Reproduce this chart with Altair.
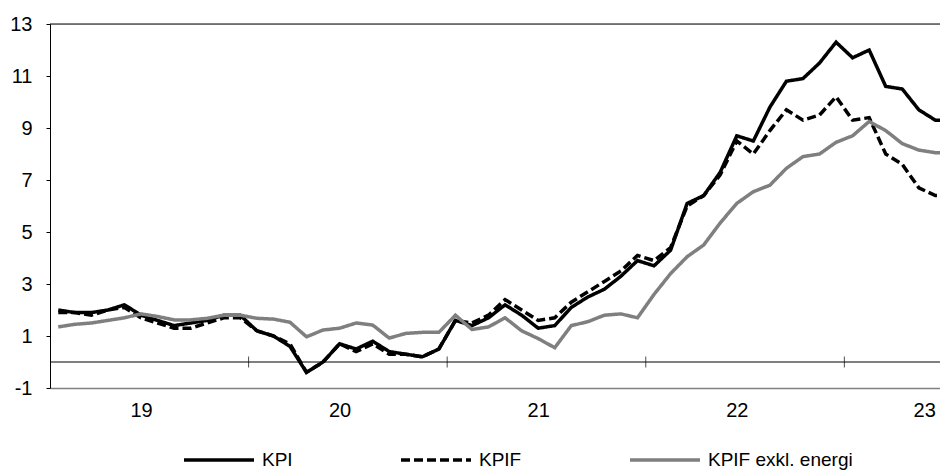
import altair as alt
import pandas as pd

# ---- data (monthly, Jan 2019 .. Jul 2023), annual % change ----
year_labels = ["19", "20", "21", "22", "23"]
series_names = ["KPI", "KPIF", "KPIF exkl. energi"]

kpi = [
    2.0, 1.9, 1.9, 2.0, 2.2, 1.8, 1.6, 1.4, 1.5, 1.6, 1.8, 1.8,
    1.2, 1.0, 0.6, -0.4, 0.0, 0.7, 0.5, 0.8, 0.4, 0.3, 0.2, 0.5,
    1.6, 1.4, 1.7, 2.2, 1.8, 1.3, 1.4, 2.1, 2.5, 2.8, 3.3, 3.9,
    3.7, 4.3, 6.1, 6.4, 7.3, 8.7, 8.5, 9.8, 10.8, 10.9, 11.5, 12.3,
    11.7, 12.0, 10.6, 10.5, 9.7, 9.3, 9.3,
]
kpif = [
    1.9, 1.9, 1.8, 2.0, 2.1, 1.7, 1.5, 1.3, 1.3, 1.5, 1.7, 1.7,
    1.2, 1.0, 0.7, -0.4, 0.0, 0.7, 0.4, 0.7, 0.3, 0.3, 0.2, 0.5,
    1.6, 1.5, 1.8, 2.4, 2.0, 1.6, 1.7, 2.3, 2.7, 3.1, 3.5, 4.1,
    3.9, 4.4, 6.0, 6.4, 7.2, 8.5, 8.0, 8.9, 9.7, 9.3, 9.5, 10.2,
    9.3, 9.4, 8.0, 7.6, 6.7, 6.4, 6.4,
]
kpif_exkl = [
    1.35, 1.45, 1.5, 1.6, 1.7, 1.85, 1.75, 1.62, 1.62, 1.68, 1.8, 1.8,
    1.68, 1.65, 1.53, 0.97, 1.23, 1.3, 1.5, 1.42, 0.92, 1.1, 1.14, 1.14,
    1.8, 1.25, 1.35, 1.7, 1.2, 0.9, 0.55, 1.4, 1.55, 1.8, 1.85, 1.7,
    2.6, 3.4, 4.05, 4.5, 5.35, 6.1, 6.55, 6.8, 7.45, 7.9, 8.0, 8.45,
    8.7, 9.25, 8.9, 8.4, 8.15, 8.05, 8.05,
]
y_ticks = [-1, 1, 3, 5, 7, 9, 11, 13]
year_starts = [12, 24, 36, 48]          # month index where 2020..2023 begin
label_months = [5.5, 17.5, 29.5, 41.5, 53.5]  # June of each year

rows = []
for name, vals in zip(series_names, [kpi, kpif, kpif_exkl]):
    for i, v in enumerate(vals):
        rows.append({"m": i + 0.5, "v": v, "serie": name})
df = pd.DataFrame(rows)

W, H = 890, 364
FONT = "Liberation Sans"

x_scale = alt.Scale(domain=[0, 53.78], nice=False, zero=False)
y_scale = alt.Scale(domain=[-1, 13], nice=False, zero=False)
color_scale = alt.Scale(domain=series_names, range=["#000000", "#000000", "#7f7f7f"])
dash_scale = alt.Scale(domain=series_names, range=[[1, 0], [9, 4], [1, 0]])

legend = alt.Legend(
    title=None, orient="none", legendX=132, legendY=399, direction="horizontal",
    symbolType="stroke", symbolSize=4900, symbolStrokeWidth=3.5,
    labelFontSize=19, labelFont=FONT, labelColor="black", labelOffset=6,
    columnPadding=101, padding=0, columns=3,
)

x_axis = alt.Axis(
    values=label_months,
    labelExpr="['" + "','".join(year_labels) + "'][floor(datum.value / 12)]",
    labelAlign=alt.ExprRef(expr="datum.value > 53 ? 'right' : 'center'"),
    title=None, grid=False, ticks=False, tickSize=0, labelPadding=12,
    labelFontSize=20, labelFont=FONT, labelColor="black",
    domainColor="#808080", domainWidth=1.5,
    labelOverlap=False, labelBound=False, labelFlush=False,
)
y_axis = alt.Axis(
    values=y_ticks, labelExpr="'' + datum.value",
    title=None, grid=False, tickSize=4, labelPadding=14,
    labelFontSize=20, labelFont=FONT, labelColor="black",
    domainColor="black", tickColor="black", domainWidth=1, tickWidth=1,
)

def series_layer(name):
    return alt.Chart(df).transform_filter(
        alt.datum.serie == name
    ).mark_line(strokeWidth=3.5, clip=True).encode(
        x=alt.X("m:Q", scale=x_scale, axis=x_axis),
        y=alt.Y("v:Q", scale=y_scale, axis=y_axis),
        color=alt.Color("serie:N", scale=color_scale, legend=legend),
        strokeDash=alt.StrokeDash("serie:N", scale=dash_scale, legend=legend),
    )

top_line = alt.Chart(pd.DataFrame({"v": [y_ticks[-1]]})).mark_rule(
    color="black", strokeWidth=1
).encode(y=alt.Y("v:Q", scale=y_scale))

zero_line = alt.Chart(pd.DataFrame({"v": [0]})).mark_rule(
    color="black", strokeWidth=1
).encode(y=alt.Y("v:Q", scale=y_scale))

year_ticks = alt.Chart(pd.DataFrame({"m": year_starts, "v": [0] * len(year_starts)})).mark_tick(
    orient="vertical", size=11, thickness=1, color="black"
).encode(
    x=alt.X("m:Q", scale=x_scale),
    y=alt.Y("v:Q", scale=y_scale),
)

chart = alt.layer(
    top_line, zero_line, year_ticks,
    series_layer("KPI"), series_layer("KPIF"), series_layer("KPIF exkl. energi"),
).properties(
    width=W, height=H,
    autosize=alt.AutoSizeParams(type="none"),
    padding={"left": 42, "top": 16, "right": 0, "bottom": 84},
).configure_view(stroke=None).configure(font=FONT)

chart.save("out.html", embed_options={"renderer": "svg", "actions": False})
